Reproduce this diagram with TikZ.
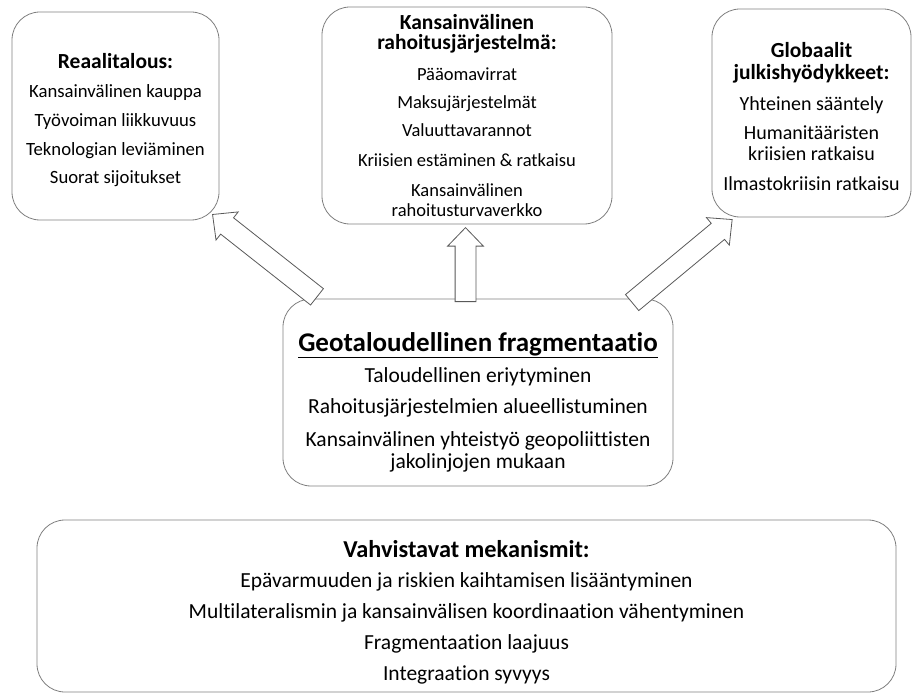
\documentclass[tikz,border=0pt]{standalone}
\usepackage{fontspec}
\setmainfont[Ligatures=NoCommon]{Carlito}
\usetikzlibrary{shapes.arrows}
\definecolor{framegray}{HTML}{7F7F7F}
\definecolor{arrowgray}{HTML}{595959}

\begin{document}
\begin{tikzpicture}[x=1pt,y=-1pt,
    frame/.style={draw=framegray, line width=0.8pt, rounded corners=28pt,
      align=center, inner sep=0pt},
    lefttext/.style={font=\fontsize{18.7}{20}\selectfont},
    midtext/.style={font=\fontsize{18.5}{20}\selectfont},
    righttext/.style={font=\fontsize{20}{21}\selectfont},
    largetext/.style={font=\fontsize{21.5}{22}\selectfont},
    fatarrow/.style={single arrow, draw=arrowgray, line width=0.8pt, fill=white,
      inner xsep=0pt, inner ysep=10pt, text height=0pt, text depth=0pt,
      minimum width=35pt, single arrow head extend=7.5pt,
      single arrow tip angle=88, sloped, allow upside down}]

  \useasboundingbox (0,0) rectangle (913,700);

  % top row
  \node[frame, lefttext, minimum width=207pt, minimum height=208pt] (real) at (115.5,116)
    {\rule{0pt}{24pt}\textbf{\fontsize{21.5}{20}\selectfont Reaalitalous:}\\[9pt]
     Kansainvälinen kauppa\\[9pt]
     Työvoiman liikkuvuus\\[9pt]
     Teknologian leviäminen\\[8pt]
     Suorat sijoitukset};

  \node[frame, midtext, minimum width=290pt, minimum height=217pt] (fin) at (467,115.5)
    {\textbf{\fontsize{21.5}{20}\selectfont Kansainvälinen}\\
     \textbf{\fontsize{21.5}{20}\selectfont rahoitusjärjestelmä:}\\[11pt]
     Pääomavirrat\\[8pt]
     Maksujärjestelmät\\[8pt]
     Valuuttavarannot\\[10pt]
     Kriisien estäminen \& ratkaisu\\[10pt]
     Kansainvälinen\\
     rahoitusturvaverkko};

  \node[frame, righttext, minimum width=199pt, minimum height=208pt] (pub) at (811.5,113)
    {\rule{0pt}{22pt}\textbf{\fontsize{21.5}{22}\selectfont Globaalit}\\[1pt]
     \textbf{\fontsize{21.5}{22}\selectfont julkishyödykkeet:}\\[10pt]
     Yhteinen sääntely\\[8pt]
     Humanitääristen\\
     kriisien ratkaisu\\[9pt]
     Ilmastokriisin ratkaisu};

  % centre
  \node[frame, largetext, minimum width=390pt, minimum height=187pt] (geo) at (478,392.5)
    {\rule{0pt}{38pt}\textbf{\fontsize{27}{26}\selectfont\underline{Geotaloudellinen fragmentaatio}}\\[9pt]
     Taloudellinen eriytyminen\\[9pt]
     Rahoitusjärjestelmien alueellistuminen\\[11pt]
     Kansainvälinen yhteistyö geopoliittisten\\
     jakolinjojen mukaan};

  % bottom
  \node[frame, largetext, minimum width=859pt, minimum height=172pt] (mech) at (466.5,606)
    {\rule{0pt}{30pt}\textbf{\fontsize{24.3}{22}\selectfont Vahvistavat mekanismit:}\\[8.5pt]
     Epävarmuuden ja riskien kaihtamisen lisääntyminen\\[9pt]
     Multilateralismin ja kansainvälisen koordinaation vähentyminen\\[9pt]
     Fragmentaation laajuus\\[9pt]
     Integraation syvyys};

  % arrows
  \coordinate (realtail) at (321,300);
  \coordinate (realhead) at (217,218);
  \coordinate (fintail) at (465.5,307);
  \coordinate (finhead) at (465.5,233);
  \coordinate (pubtail) at (628,306);
  \coordinate (pubhead) at (728,223);

  \path (realtail) -- node[fatarrow, minimum height=133pt] (toreal) {} (realhead);
  \path (fintail) -- node[fatarrow, minimum height=74pt] (tofin) {} (finhead);
  \path (pubtail) -- node[fatarrow, minimum height=130pt] (topub) {} (pubhead);

\end{tikzpicture}
\end{document}
